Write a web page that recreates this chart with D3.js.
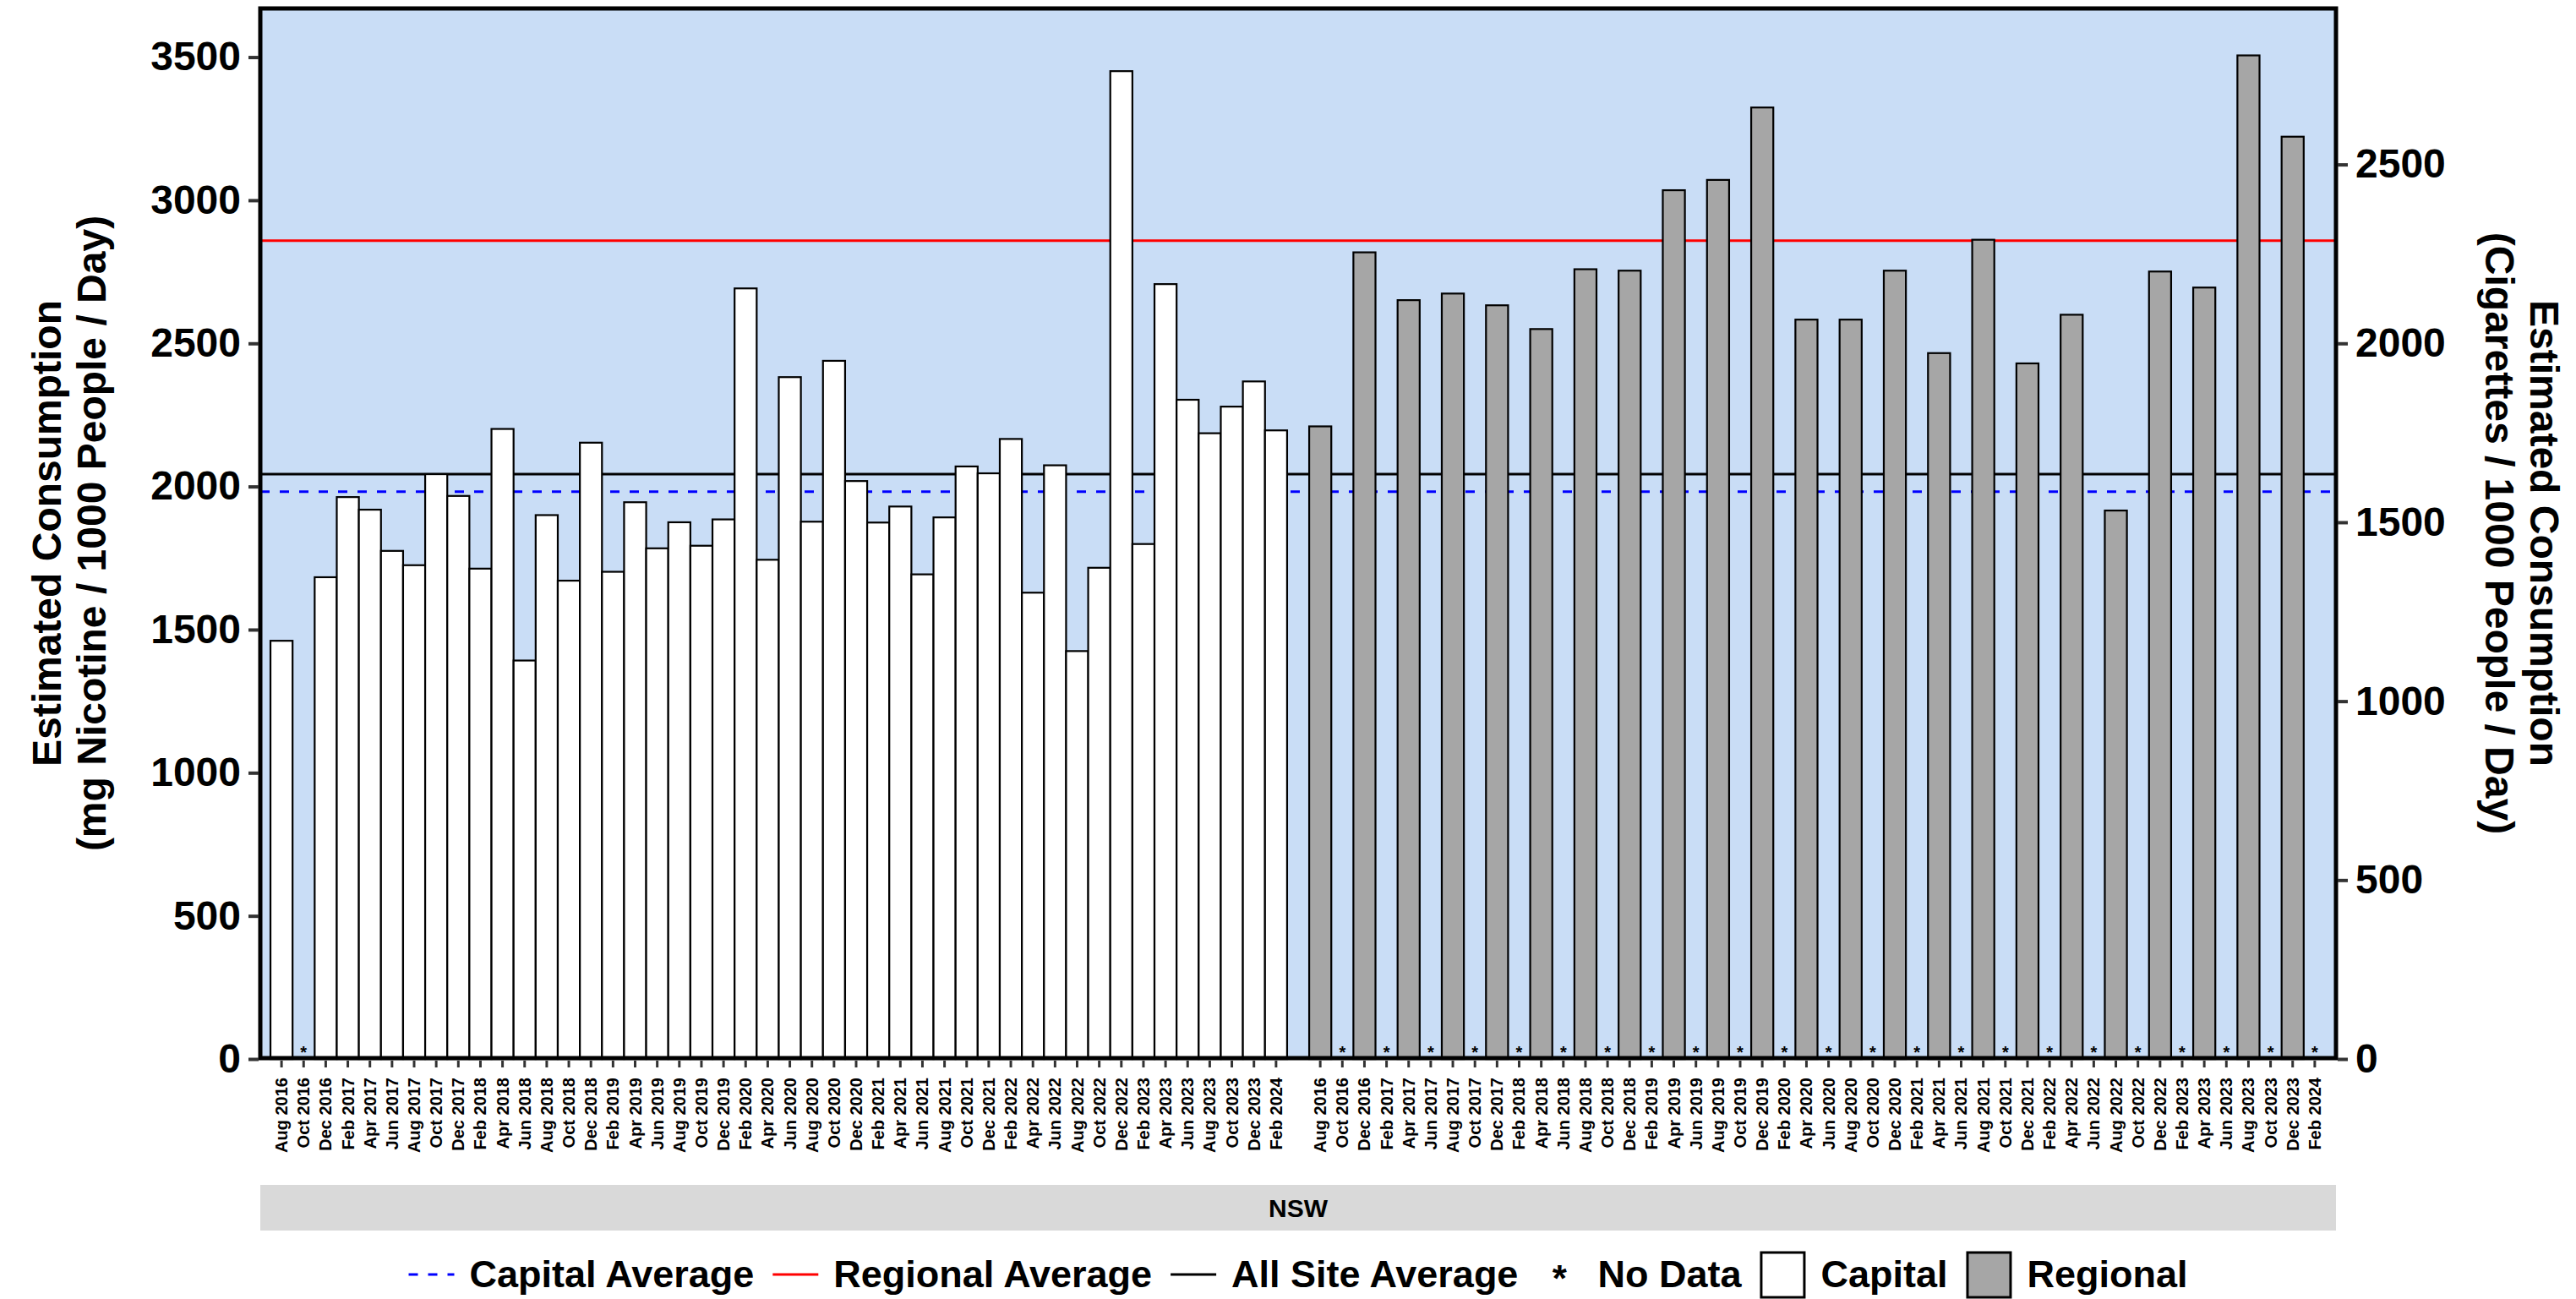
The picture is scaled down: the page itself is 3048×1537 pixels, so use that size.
<!DOCTYPE html>
<html>
<head>
<meta charset="utf-8">
<script src="https://cdn.jsdelivr.net/npm/d3@7"></script>
<style>
  html, body { margin: 0; padding: 0; background: #ffffff; }
  svg { display: block; font-family: "Liberation Sans", Arial, Helvetica, sans-serif; }
</style>
</head>
<body>
<svg id="chart" width="3048" height="1537"></svg>
<script>
// ---------------- DATA ----------------
const periodLabels = [
  "Aug 2016","Oct 2016","Dec 2016",
  "Feb 2017","Apr 2017","Jun 2017","Aug 2017","Oct 2017","Dec 2017",
  "Feb 2018","Apr 2018","Jun 2018","Aug 2018","Oct 2018","Dec 2018",
  "Feb 2019","Apr 2019","Jun 2019","Aug 2019","Oct 2019","Dec 2019",
  "Feb 2020","Apr 2020","Jun 2020","Aug 2020","Oct 2020","Dec 2020",
  "Feb 2021","Apr 2021","Jun 2021","Aug 2021","Oct 2021","Dec 2021",
  "Feb 2022","Apr 2022","Jun 2022","Aug 2022","Oct 2022","Dec 2022",
  "Feb 2023","Apr 2023","Jun 2023","Aug 2023","Oct 2023","Dec 2023",
  "Feb 2024"
];

// mg nicotine / 1000 people / day ; null = no data
const capitalValues = [
  1461, null, 1683,
  1963, 1919, 1775, 1725, 2043, 1967,
  1713, 2201, 1392, 1900, 1671, 2153,
  1702, 1945, 1784, 1875, 1793, 1885,
  2692, 1744, 2382, 1877, 2439, 2019,
  1874, 1930, 1693, 1892, 2070, 2046,
  2166, 1629, 2074, 1425, 1716, 3451,
  1799, 2707, 2303, 2186, 2279, 2367,
  2196
];

const regionalValues = [
  2210, null, 2818,
  null, 2651, null, 2674, null, 2633,
  null, 2550, null, 2759, null, 2754,
  null, 3035, null, 3071, null, 3324,
  null, 2583, null, 2583, null, 2754,
  null, 2466, null, 2862, null, 2430,
  null, 2600, null, 1916, null, 2751,
  null, 2695, null, 3506, null, 3222,
  null
];

const capitalAverage = 1982;
const regionalAverage = 2859;
const allSiteAverage = 2043;

const leftTicks = [0, 500, 1000, 1500, 2000, 2500, 3000, 3500];
const rightTicks = [0, 500, 1000, 1500, 2000, 2500];
const mgPerCigarette = 1.25;
const yMax = 3670;

const facetLabel = "NSW";
const leftTitle = ["Estimated Consumption", "(mg Nicotine / 1000 People / Day)"];
const rightTitle = ["Estimated Consumption", "(Cigarettes / 1000 People / Day)"];

// ---------------- LAYOUT ----------------
const panel = { l: 308, r: 2764, t: 10, b: 1252 };
const colors = {
  bg: "#C9DDF6", capital: "#FFFFFF", regional: "#A6A6A6",
  capAvg: "#0000FF", regAvg: "#FF0000", allAvg: "#000000",
  strip: "#D9D9D9", tick: "#333333"
};
const FONT_TICK = 48, FONT_X = 20, FONT_LEG = 45;

// Build category keys
const rows = [];
periodLabels.forEach((lab, i) => rows.push({ key: "C|" + lab, label: lab, value: capitalValues[i], type: "capital" }));
rows.push({ key: "gap", label: "", value: null, type: "gap" });
periodLabels.forEach((lab, i) => rows.push({ key: "R|" + lab, label: lab, value: regionalValues[i], type: "regional" }));

const svg = d3.select("#chart");

const x = d3.scaleBand()
  .domain(rows.map(d => d.key))
  .range([panel.l, panel.r])
  .paddingInner(0)
  .paddingOuter(0.46);

const y = d3.scaleLinear().domain([0, yMax]).range([1253, panel.t]);
const yR = d3.scaleLinear().domain([0, yMax / mgPerCigarette]).range([1253, panel.t]);

// Panel background
svg.append("rect")
  .attr("x", panel.l).attr("y", panel.t)
  .attr("width", panel.r - panel.l).attr("height", panel.b - panel.t)
  .attr("fill", colors.bg);

// Average lines (under bars)
const avgLines = [
  { v: capitalAverage, c: colors.capAvg, dash: "11,12" },
  { v: regionalAverage, c: colors.regAvg, dash: null },
  { v: allSiteAverage, c: colors.allAvg, dash: null }
];
svg.append("g").selectAll("line").data(avgLines).join("line")
  .attr("x1", panel.l).attr("x2", panel.r)
  .attr("y1", d => y(d.v)).attr("y2", d => y(d.v))
  .attr("stroke", d => d.c).attr("stroke-width", 3)
  .attr("stroke-dasharray", d => d.dash);

// Bars
const barRows = rows.filter(d => d.type !== "gap" && d.value != null);
svg.append("g").selectAll("rect").data(barRows).join("rect")
  .attr("x", d => x(d.key))
  .attr("width", x.bandwidth())
  .attr("y", d => y(d.value))
  .attr("height", d => y(0) - y(d.value))
  .attr("fill", d => d.type === "capital" ? colors.capital : colors.regional)
  .attr("stroke", "#000").attr("stroke-width", 2.2);

// No-data asterisks
const missing = rows.filter(d => d.type !== "gap" && d.value == null);
svg.append("g").selectAll("text").data(missing).join("text")
  .attr("x", d => x(d.key) + x.bandwidth() / 2)
  .attr("y", y(0) - 1)
  .attr("text-anchor", "middle")
  .attr("font-size", 20).attr("font-weight", "bold")
  .text("*");

// Panel border
svg.append("rect")
  .attr("x", panel.l).attr("y", panel.t)
  .attr("width", panel.r - panel.l).attr("height", panel.b - panel.t)
  .attr("fill", "none").attr("stroke", "#000").attr("stroke-width", 5);

// Bottom axis
const xAxis = d3.axisBottom(x)
  .tickValues(rows.filter(d => d.type !== "gap").map(d => d.key))
  .tickFormat(k => k.split("|")[1])
  .tickSize(8);
const gx = svg.append("g").attr("transform", `translate(0,${panel.b + 3})`).call(xAxis);
gx.select(".domain").remove();
gx.selectAll(".tick line").attr("stroke", colors.tick).attr("stroke-width", 3);
gx.selectAll(".tick text")
  .attr("transform", "rotate(-90)")
  .attr("x", -20).attr("y", 0).attr("dy", "0.35em")
  .attr("text-anchor", "end")
  .attr("font-size", FONT_X).attr("font-weight", "bold")
  .attr("fill", "#000")
  .attr("font-family", "Liberation Sans, Arial, sans-serif");

// Left axis
const gyL = svg.append("g").attr("transform", `translate(${panel.l - 2},0)`)
  .call(d3.axisLeft(y).tickValues(leftTicks).tickFormat(d3.format("d")).tickSize(12).tickPadding(9));
gyL.select(".domain").remove();
gyL.selectAll(".tick line").attr("stroke", colors.tick).attr("stroke-width", 4);
gyL.selectAll(".tick text").attr("font-size", FONT_TICK).attr("font-weight", "bold")
  .attr("fill", "#000").attr("font-family", "Liberation Sans, Arial, sans-serif");

// Right axis
const gyR = svg.append("g").attr("transform", `translate(${panel.r + 2},0)`)
  .call(d3.axisRight(yR).tickValues(rightTicks).tickFormat(d3.format("d")).tickSize(12).tickPadding(9));
gyR.select(".domain").remove();
gyR.selectAll(".tick line").attr("stroke", colors.tick).attr("stroke-width", 4);
gyR.selectAll(".tick text").attr("font-size", FONT_TICK).attr("font-weight", "bold")
  .attr("fill", "#000").attr("font-family", "Liberation Sans, Arial, sans-serif");

// Axis titles
const midY = (panel.t + panel.b) / 2;
const lt = svg.append("text")
  .attr("transform", `translate(0,${midY}) rotate(-90)`)
  .attr("text-anchor", "middle").attr("font-size", FONT_TICK).attr("font-weight", "bold");
lt.append("tspan").attr("x", 0).attr("y", 72).text(leftTitle[0]);
lt.append("tspan").attr("x", 0).attr("y", 125).text(leftTitle[1]);

const rt = svg.append("text")
  .attr("transform", `translate(0,${midY}) rotate(90)`)
  .attr("text-anchor", "middle").attr("font-size", FONT_TICK).attr("font-weight", "bold");
rt.append("tspan").attr("x", 0).attr("y", -2994).text(rightTitle[0]);
rt.append("tspan").attr("x", 0).attr("y", -2941).text(rightTitle[1]);

// Facet strip
svg.append("rect")
  .attr("x", panel.l).attr("y", 1402)
  .attr("width", panel.r - panel.l).attr("height", 54)
  .attr("fill", colors.strip);
svg.append("text")
  .attr("x", (panel.l + panel.r) / 2).attr("y", 1440)
  .attr("text-anchor", "middle").attr("font-size", 30).attr("font-weight", "bold")
  .text(facetLabel);

// Legend
const legendItems = [
  { kind: "line", color: colors.capAvg, dash: "11,12", label: "Capital Average" },
  { kind: "line", color: colors.regAvg, dash: null, label: "Regional Average" },
  { kind: "line", color: colors.allAvg, dash: null, label: "All Site Average" },
  { kind: "star", label: "No Data" },
  { kind: "box", color: colors.capital, label: "Capital" },
  { kind: "box", color: colors.regional, label: "Regional" }
];
const keyW = 54, keyGap = 18, itemGap = 22, legCY = 1508, legBase = 1523;
const leg = svg.append("g");
let cx = 0;
legendItems.forEach(item => {
  const g = leg.append("g").attr("transform", `translate(${cx},0)`);
  if (item.kind === "line") {
    g.append("line").attr("x1", 0).attr("x2", keyW).attr("y1", legCY).attr("y2", legCY)
      .attr("stroke", item.color).attr("stroke-width", 3).attr("stroke-dasharray", item.dash);
  } else if (item.kind === "star") {
    g.append("text").attr("x", keyW / 2).attr("y", legCY + 20).attr("text-anchor", "middle")
      .attr("font-size", 44).attr("font-weight", "bold").text("*");
  } else {
    g.append("rect").attr("x", 1.5).attr("y", legCY - 26).attr("width", keyW - 3).attr("height", 53)
      .attr("fill", item.color).attr("stroke", "#000").attr("stroke-width", 3);
  }
  const t = g.append("text").attr("x", keyW + keyGap).attr("y", legBase)
    .attr("font-size", FONT_LEG).attr("font-weight", "bold").text(item.label);
  const w = t.node().getComputedTextLength();
  cx += keyW + keyGap + w + itemGap;
});
const legW = cx - itemGap;
leg.attr("transform", `translate(${(panel.l + panel.r) / 2 - legW / 2},0)`);
</script>
</body>
</html>
